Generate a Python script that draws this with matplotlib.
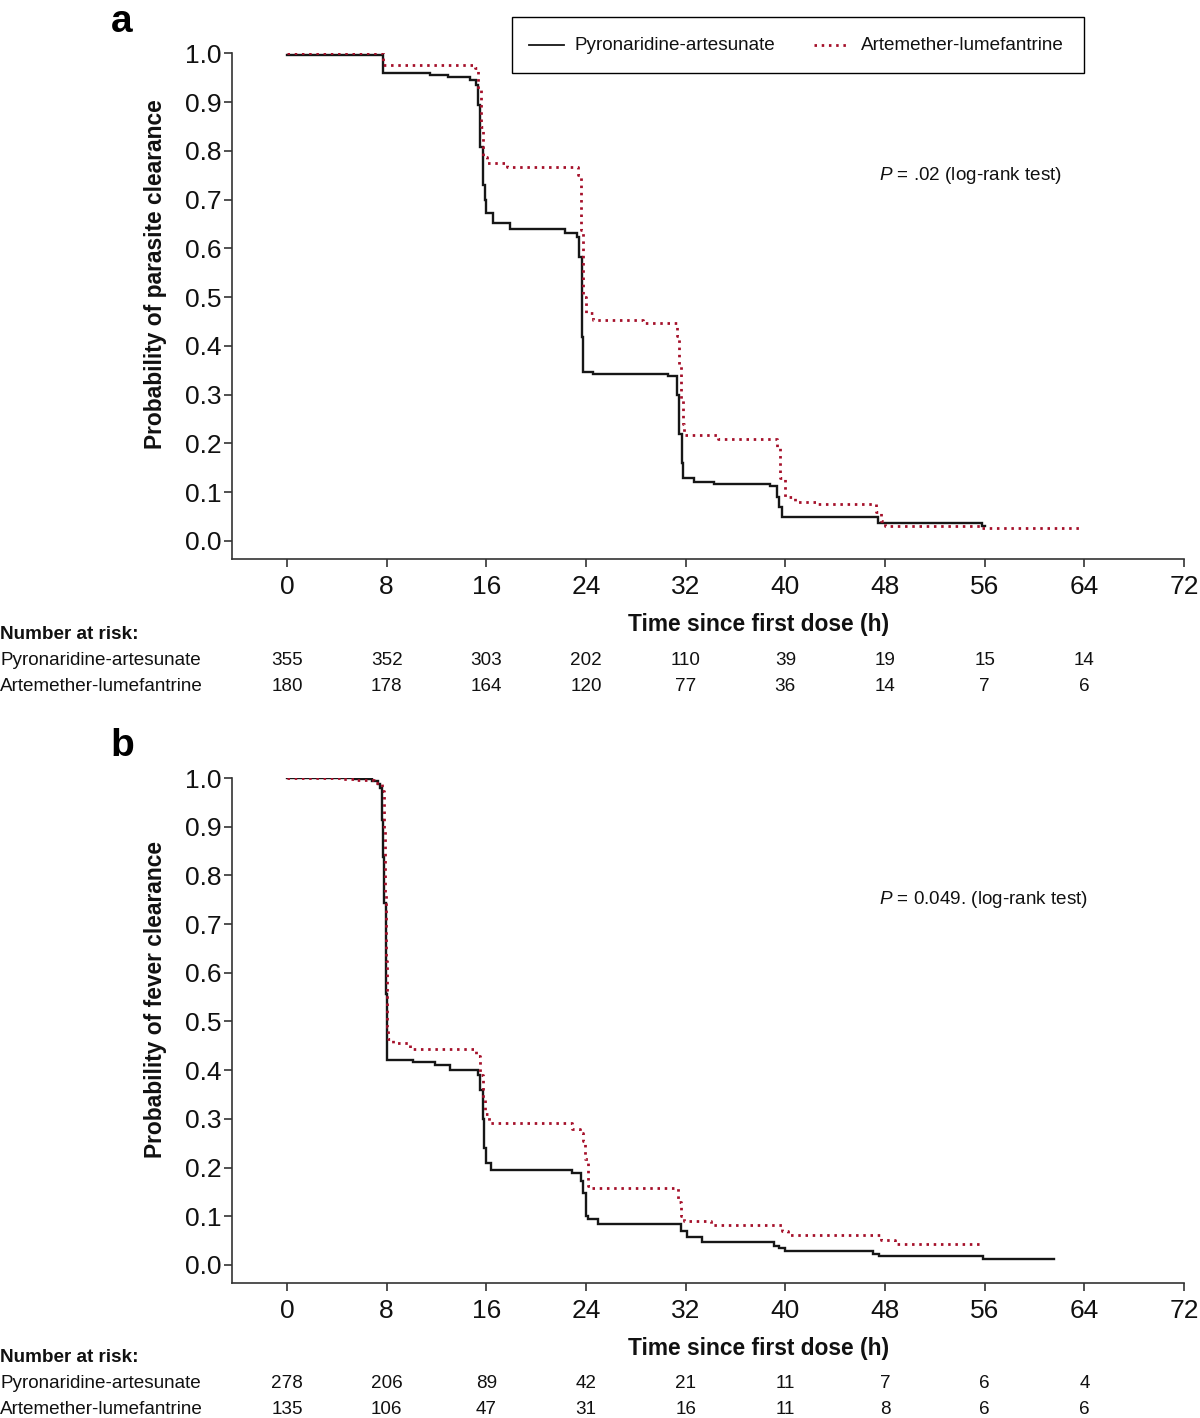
import matplotlib
matplotlib.use("Agg")
import matplotlib.pyplot as plt
from matplotlib.transforms import blended_transform_factory
from matplotlib.lines import Line2D
from matplotlib.patches import Rectangle

plt.rcParams['font.family'] = ['Liberation Sans', 'DejaVu Sans']
plt.rcParams['mathtext.fontset'] = 'custom'
plt.rcParams['mathtext.rm'] = 'Liberation Sans'
plt.rcParams['mathtext.it'] = 'Liberation Sans:italic'

# ---------------- data ----------------
arm_names = ["Pyronaridine-artesunate", "Artemether-lumefantrine"]
x_ticks = [0, 8, 16, 24, 32, 40, 48, 56, 64, 72]
y_ticks = [0.0, 0.1, 0.2, 0.3, 0.4, 0.5, 0.6, 0.7, 0.8, 0.9, 1.0]
risk_times = [0, 8, 16, 24, 32, 40, 48, 56, 64]

# Panel a: parasite clearance
pa_a_t = [0, 7.7, 11.5, 12.9, 14.7, 15.2, 15.35, 15.5, 15.7, 15.9, 16.0, 16.5, 17.9, 22.3,
          23.25, 23.45, 23.65, 23.7, 23.8, 24.6, 30.6, 31.3, 31.5, 31.7, 31.8, 32.7, 34.3,
          38.8, 39.3, 39.5, 39.7, 47.4, 55.8]
pa_a_s = [0.997, 0.960, 0.956, 0.951, 0.945, 0.934, 0.893, 0.808, 0.73, 0.70, 0.672, 0.651, 0.639, 0.632,
          0.624, 0.583, 0.453, 0.419, 0.346, 0.342, 0.338, 0.30, 0.22, 0.16, 0.129, 0.121, 0.117,
          0.112, 0.09, 0.07, 0.050, 0.0375, 0.030]
pa_a_end = 56.0
al_a_t = [0, 7.7, 15.1, 15.3, 15.6, 15.75, 16.05, 17.7, 23.35, 23.6, 23.8, 24.0, 24.6, 28.6,
          31.3, 31.45, 31.6, 31.75, 31.9, 34.6, 39.3, 39.6, 40.0, 40.8, 42.5, 47.3, 47.7, 48.0, 55.8]
al_a_s = [1.0, 0.976, 0.970, 0.924, 0.848, 0.787, 0.775, 0.766, 0.75, 0.637, 0.50, 0.467, 0.454, 0.447,
          0.42, 0.36, 0.29, 0.24, 0.217, 0.210, 0.19, 0.13, 0.091, 0.0805, 0.076, 0.06, 0.04, 0.031, 0.027]
al_a_end = 63.8
risk_pa_a = [355, 352, 303, 202, 110, 39, 19, 15, 14]
risk_al_a = [180, 178, 164, 120, 77, 36, 14, 7, 6]

# Panel b: fever clearance
pa_b_t = [0, 5.5, 6.8, 7.3, 7.5, 7.6, 7.73, 7.82, 7.95, 8.05, 10.1, 11.9, 13.1, 15.3, 15.5, 15.7,
          15.85, 16.0, 16.4, 22.9, 23.6, 23.8, 24.0, 24.2, 25.0, 31.65, 32.07, 33.3, 39.1, 39.5,
          39.95, 47.0, 47.5, 55.85]
pa_b_s = [1.0, 0.998, 0.993, 0.988, 0.98, 0.914, 0.838, 0.744, 0.557, 0.42, 0.416, 0.41, 0.40, 0.39, 0.36, 0.30,
          0.24, 0.21, 0.195, 0.189, 0.172, 0.148, 0.101, 0.094, 0.084, 0.070, 0.057, 0.047, 0.040, 0.034,
          0.029, 0.022, 0.018, 0.012]
pa_b_end = 61.6
al_b_t = [0, 4.5, 5.5, 7.0, 7.6, 7.75, 7.9, 7.98, 8.03, 8.15, 8.5, 9.9, 15.2, 15.5, 15.7, 15.9, 16.2,
          22.9, 23.5, 23.8, 23.9, 24.2, 24.4, 31.4, 31.65, 31.9, 34.0, 39.7, 40.2, 47.7, 48.8]
al_b_s = [1.0, 0.998, 0.996, 0.99, 0.973, 0.898, 0.762, 0.625, 0.488, 0.465, 0.456, 0.443, 0.43, 0.39, 0.34, 0.31, 0.292,
          0.28, 0.272, 0.255, 0.217, 0.162, 0.158, 0.13, 0.10, 0.0907, 0.082, 0.07, 0.061, 0.052, 0.043]
al_b_end = 55.6
risk_pa_b = [278, 206, 89, 42, 21, 11, 7, 6, 4]
risk_al_b = [135, 106, 47, 31, 16, 11, 8, 6, 6]

# ---------------- figure ----------------
W, H = 1200, 1418
fig = plt.figure(figsize=(W / 100, H / 100), dpi=100)

BLACK = '#161616'
RED = '#a5102a'
RED_LS = (0, (0.9, 1.7))
FS = 13.6


def fx(px):
    return px / W


def fy(py):
    return 1 - py / H


def panel(top_px, bot_px, label, ylabel, ptext, p_y, pa_t, pa_s, pa_end, al_t, al_s, al_end,
          risk_pa, risk_al, label_y, risk_y0):
    ax = fig.add_axes([fx(232), fy(bot_px), fx(1184) - fx(232), fy(top_px) - fy(bot_px)])
    ax.set_xlim(-4.41, 72)
    ax.set_ylim(-0.037, 1.0)
    ax.step(list(pa_t) + [pa_end], list(pa_s) + [pa_s[-1]], where='post', color=BLACK, lw=1.7,
            solid_joinstyle='miter')
    ax.step(list(al_t) + [al_end], list(al_s) + [al_s[-1]], where='post', color=RED, lw=2.0,
            linestyle=RED_LS)
    for s in ['top', 'right']:
        ax.spines[s].set_visible(False)
    for s in ['left', 'bottom']:
        ax.spines[s].set_linewidth(1.2)
        ax.spines[s].set_color('#333333')
    ax.set_xticks(x_ticks)
    ax.set_yticks(y_ticks)
    ax.set_yticklabels([f"{v:.1f}" for v in y_ticks])
    ax.tick_params(axis='both', direction='out', length=5.5, width=1.2, color='#333333',
                   labelsize=19, labelcolor='#111111')
    ax.tick_params(axis='x', pad=6)
    ax.tick_params(axis='y', pad=2)
    fig.text(fx(879), fy(p_y), ptext, fontsize=FS, ha='left', va='center', color='#111111')
    fig.text(fx(155), fy(top_px + 221), ylabel, rotation=90, ha='center',
             va='center', fontsize=16.4, fontweight='bold', color='#111111')
    fig.text(fx(759), fy(bot_px + 66), "Time since first dose (h)", ha='center', va='center',
             fontsize=16.4, fontweight='bold', color='#111111')
    fig.text(fx(122), fy(label_y), label, ha='center', va='center', fontsize=28,
             fontweight='bold', color='black')
    # number at risk
    fig.text(fx(0), fy(risk_y0), "Number at risk:", ha='left', va='center', fontsize=FS,
             fontweight='bold', color='#111111')
    fig.text(fx(0), fy(risk_y0 + 26), arm_names[0], ha='left', va='center', fontsize=FS,
             color='#111111')
    fig.text(fx(0), fy(risk_y0 + 52), arm_names[1], ha='left', va='center', fontsize=FS,
             color='#111111')
    tr = blended_transform_factory(ax.transData, fig.transFigure)
    for t, n in zip(risk_times, risk_pa):
        ax.text(t, fy(risk_y0 + 26), str(n), transform=tr, ha='center', va='center',
                fontsize=FS, color='#111111', clip_on=False)
    for t, n in zip(risk_times, risk_al):
        ax.text(t, fy(risk_y0 + 52), str(n), transform=tr, ha='center', va='center',
                fontsize=FS, color='#111111', clip_on=False)
    return ax


ax_a = panel(53.3, 559, 'a', "Probability of parasite clearance",
             r"$\it{P}$ = .02 (log-rank test)", 176,
             pa_a_t, pa_a_s, pa_a_end, al_a_t, al_a_s, al_a_end, risk_pa_a, risk_al_a, 22, 634.5)
ax_b = panel(778, 1283, 'b', "Probability of fever clearance",
             r"$\it{P}$ = 0.049. (log-rank test)", 900,
             pa_b_t, pa_b_s, pa_b_end, al_b_t, al_b_s, al_b_end, risk_pa_b, risk_al_b, 746, 1357.5)

# legend box (drawn manually in figure coordinates)
fig.patches.append(Rectangle((fx(512), fy(73)), fx(1084) - fx(512), fy(17) - fy(73),
                             transform=fig.transFigure, facecolor='white', edgecolor='black',
                             lw=1.0, zorder=5))
fig.lines.append(Line2D([fx(529), fx(564)], [fy(45), fy(45)], transform=fig.transFigure,
                        color=BLACK, lw=1.3, zorder=6))
fig.text(fx(575), fy(46), arm_names[0], ha='left', va='center', fontsize=FS,
         color='#111111', zorder=6)
fig.lines.append(Line2D([fx(814), fx(848)], [fy(45), fy(45)], transform=fig.transFigure,
                        color=RED, lw=2.0, linestyle=RED_LS, zorder=6))
fig.text(fx(861), fy(46), arm_names[1], ha='left', va='center', fontsize=FS,
         color='#111111', zorder=6)

fig.savefig("out.png", dpi=100)
